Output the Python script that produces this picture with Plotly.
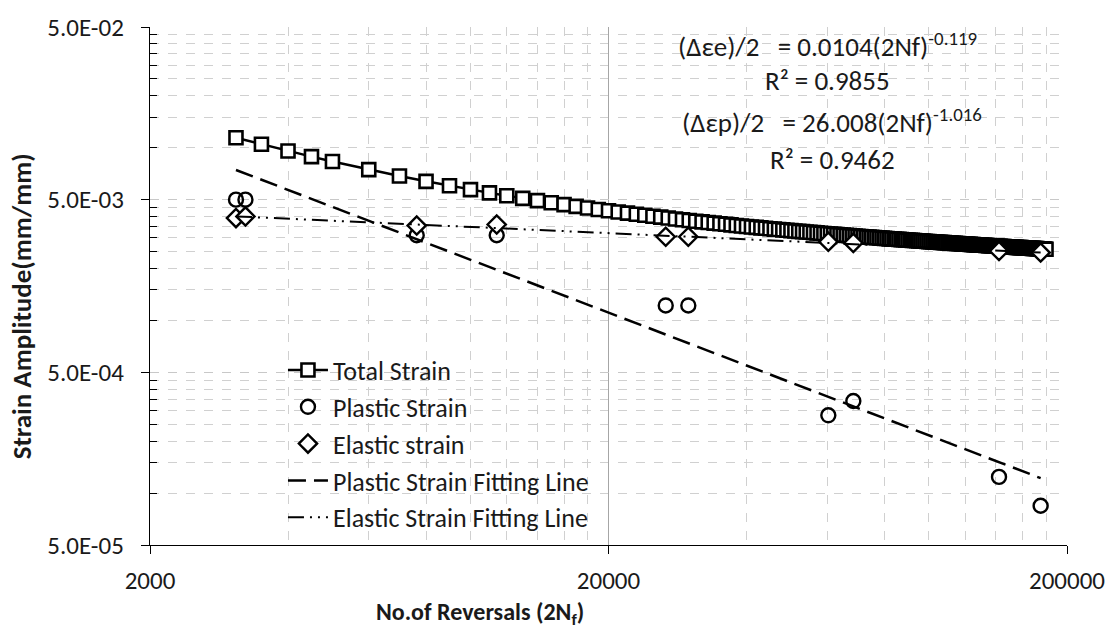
import plotly.graph_objects as go

# ---------------- data ----------------
# Total strain curve: reversals in thousands and strain amplitude
total_k = [3.08, 3.5, 4, 4.5, 5, 6, 7, 8, 9, 10, 11, 12, 13, 14, 15, 16, 17, 18, 19, 20,
           21, 22, 23, 24, 25, 26, 27, 28, 29, 30, 31, 32, 33, 34, 35, 36, 37, 38, 39, 40,
           41, 42, 43, 44, 45, 46, 47, 48, 49, 50, 51, 52, 53, 54, 55, 56, 57, 58, 59, 60,
           61, 62, 63, 64, 65, 66, 67, 68, 69, 70, 71, 72, 73, 74, 75, 76, 77, 78, 79, 80,
           81, 82, 83, 84, 85, 86, 87, 88, 89, 90, 91, 92, 93, 94, 95, 96, 97, 98, 99, 100,
           101, 102, 103, 104, 105, 106, 107, 108, 109, 110, 111, 112, 113, 114, 115, 116,
           117, 118, 119, 120, 121, 122, 123, 124, 125, 126, 127, 128, 129, 130, 131, 132,
           133, 134, 135, 136, 137, 138, 139, 140, 141, 142, 143, 144, 145, 146, 147, 148,
           149, 150, 151, 152, 153, 154, 155, 156, 157, 158, 159, 160, 161, 162, 163, 164,
           165, 166, 167, 168, 169, 170, 171, 172, 173, 174, 175, 176, 177, 178, 179, 180]
total_strain = [0.01142, 0.01046, 0.009570, 0.008874, 0.008313, 0.007465, 0.006851, 0.006385,
                0.006018, 0.005720, 0.005474, 0.005266, 0.005088, 0.004934, 0.004799, 0.004679,
                0.004572, 0.004476, 0.004389, 0.004310,
                0.004238, 0.004177, 0.004118, 0.004062, 0.004009, 0.003959, 0.003912, 0.003866, 0.003823, 0.003785,
                0.003751, 0.003718, 0.003687, 0.003656, 0.003627, 0.003599, 0.003572, 0.003546, 0.003521, 0.003496,
                0.003475, 0.003454, 0.003434, 0.003414, 0.003395, 0.003377, 0.003359, 0.003341, 0.003324, 0.003307,
                0.003292, 0.003278, 0.003263, 0.003249, 0.003236, 0.003222, 0.003209, 0.003197, 0.003184, 0.003172,
                0.003161, 0.003150, 0.003139, 0.003128, 0.003118, 0.003107, 0.003097, 0.003087, 0.003078, 0.003068,
                0.003059, 0.003050, 0.003042, 0.003033, 0.003025, 0.003017, 0.003009, 0.003001, 0.002993, 0.002985,
                0.002978, 0.002971, 0.002964, 0.002957, 0.002950, 0.002943, 0.002936, 0.002930, 0.002923, 0.002917,
                0.002911, 0.002905, 0.002899, 0.002893, 0.002887, 0.002881, 0.002876, 0.002870, 0.002865, 0.002859,
                0.002854, 0.002849, 0.002844, 0.002838, 0.002833, 0.002828, 0.002824, 0.002819, 0.002814, 0.002809,
                0.002805, 0.002800, 0.002796, 0.002791, 0.002787, 0.002783, 0.002778, 0.002774, 0.002770, 0.002766,
                0.002762, 0.002758, 0.002754, 0.002750, 0.002746, 0.002742, 0.002738, 0.002735, 0.002731, 0.002727,
                0.002724, 0.002720, 0.002717, 0.002713, 0.002710, 0.002706, 0.002703, 0.002699, 0.002696, 0.002693,
                0.002689, 0.002686, 0.002683, 0.002680, 0.002677, 0.002674, 0.002671, 0.002668, 0.002665, 0.002662,
                0.002659, 0.002656, 0.002653, 0.002650, 0.002647, 0.002644, 0.002641, 0.002639, 0.002636, 0.002633,
                0.002631, 0.002628, 0.002625, 0.002623, 0.002620, 0.002617, 0.002615, 0.002612, 0.002610, 0.002607,
                0.002605, 0.002602, 0.002600, 0.002597, 0.002595, 0.002593, 0.002590, 0.002588, 0.002586, 0.002583]

# Measured specimens
reversals = [3080, 3230, 7634, 11408, 26660, 29860, 60320, 68390, 142150, 175200]
plastic_strain = [0.0050, 0.0050, 0.00311, 0.00311, 0.00122, 0.00122, 0.000282, 0.000341, 0.000124, 0.0000844]
elastic_strain = [0.00391, 0.00400, 0.00354, 0.00359, 0.00305, 0.00305, 0.00285, 0.00281, 0.00252, 0.00247]

# Fitting lines (end points of the power-law trend lines)
fit_x = [3080, 175200]
plastic_fit = [0.00743, 0.000122]
elastic_fit = [0.00400, 0.00247]

# Axis ticks
x_ticks = [2000, 20000, 200000]
x_ticktext = ["2000", "20000", "200000"]
y_ticks = [5e-5, 5e-4, 5e-3, 5e-2]
y_ticktext = ["5.0E-05", "5.0E-04", "5.0E-03", "5.0E-02"]
mult = [2, 3, 4, 5, 6, 7, 8, 9]

total_x = [k * 1000 for k in total_k]
x_minor = [b * m for b in (2000, 20000) for m in mult]
y_minor = [b * m for b in (5e-5, 5e-4, 5e-3) for m in mult]

FONT = "Carlito, Calibri, Lato, sans-serif"
TXT = "#1a1a1a"

fig = go.Figure()
fig.add_trace(go.Scatter(
    x=total_x, y=total_strain, mode="lines+markers", name="Total Strain",
    line=dict(color="black", width=2.5),
    marker=dict(symbol="square", size=13, color="white", line=dict(color="black", width=2.6))))
fig.add_trace(go.Scatter(
    x=reversals, y=plastic_strain, mode="markers", name="Plastic Strain",
    marker=dict(symbol="circle", size=14, color="rgba(0,0,0,0)", line=dict(color="black", width=2.4))))
fig.add_trace(go.Scatter(
    x=reversals, y=elastic_strain, mode="markers", name="Elastic strain",
    marker=dict(symbol="diamond", size=14, color="white", line=dict(color="black", width=2.4))))
fig.add_trace(go.Scatter(
    x=fit_x, y=plastic_fit, mode="lines", name="Plastic Strain Fitting Line",
    line=dict(color="black", width=2.5, dash="18px,8px")))
fig.add_trace(go.Scatter(
    x=fit_x, y=elastic_fit, mode="lines", name="Elastic Strain Fitting Line",
    line=dict(color="black", width=2, dash="16px,6px,2px,6px,2px,6px")))

eqs = [
    ("(Δεe)/2\u00a0\u00a0\u00a0= 0.0104(2Nf)<sup>-0.119</sup>", 0.739, 0.966),
    ("R² = 0.9855", 0.739, 0.897),
    ("(Δεp)/2\u00a0\u00a0\u00a0= 26.008(2Nf)<sup>-1.016</sup>", 0.744, 0.819),
    ("R² = 0.9462", 0.744, 0.744),
]
annotations = []
for text, xp, yp in eqs:
    annotations.append(dict(text=text, x=xp, y=yp, xref="paper", yref="paper",
                            xanchor="center", yanchor="middle", showarrow=False,
                            font=dict(family=FONT, size=27, color=TXT)))
annotations.append(dict(text="<b>No.of Reversals (2N<sub>f</sub>)</b>", x=0.360, y=-0.133,
                        xref="paper", yref="paper", xanchor="center", yanchor="middle",
                        showarrow=False, font=dict(family=FONT, size=24, color=TXT)))
annotations.append(dict(text="<b>Strain Amplitude(mm/mm)</b>", x=-0.140, y=0.46,
                        xref="paper", yref="paper", xanchor="center", yanchor="middle",
                        textangle=-90, showarrow=False, font=dict(family=FONT, size=27, color=TXT)))

fig.update_layout(
    width=1120, height=630,
    margin=dict(l=150, r=53, t=17, b=85),
    paper_bgcolor="white", plot_bgcolor="white",
    font=dict(family=FONT, size=26, color=TXT),
    annotations=annotations,
    legend=dict(x=0.145, y=0.383, xanchor="left", yanchor="top",
                bgcolor="rgba(0,0,0,0)", font=dict(family=FONT, size=26, color=TXT),
                tracegroupgap=0, itemwidth=40),
    showlegend=True,
)
fig.update_xaxes(
    type="log", range=[3.30103, 5.30103],
    tickmode="array", tickvals=x_ticks, ticktext=x_ticktext,
    ticks="outside", ticklen=8, tickcolor="black", ticklabelstandoff=5,
    showline=True, linecolor="black", linewidth=1.3,
    showgrid=True, gridcolor="#a6a6a6", gridwidth=1,
    tickfont=dict(family=FONT, size=25, color=TXT),
    minor=dict(tickmode="array", tickvals=x_minor, showgrid=True, gridcolor="#d0d0d0",
               griddash="dash", ticks=""),
    zeroline=False,
)
fig.update_yaxes(
    type="log", range=[-4.30103, -1.30103],
    tickmode="array", tickvals=y_ticks, ticktext=y_ticktext,
    ticks="outside", ticklen=8, tickcolor="black", ticklabelstandoff=12,
    showline=True, linecolor="black", linewidth=1.3,
    showgrid=True, gridcolor="#c8c8c8", gridwidth=1, griddash="dash",
    tickfont=dict(family=FONT, size=25, color=TXT),
    minor=dict(tickmode="array", tickvals=y_minor, showgrid=True, gridcolor="#d0d0d0",
               griddash="dash", ticks="inside", ticklen=7, tickcolor="black"),
    zeroline=False,
)

fig.write_html("out.html")
